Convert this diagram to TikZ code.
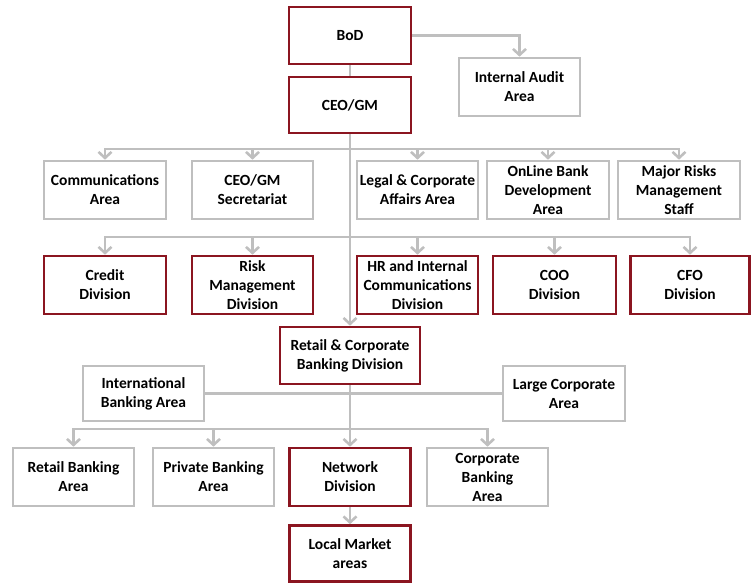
\documentclass[tikz,border=0pt]{standalone}
\usepackage{fontspec}
\setmainfont{Carlito}
\usepackage{tikz}
\usetikzlibrary{arrows.meta}
\definecolor{darkred}{RGB}{139,21,32}
\definecolor{boxgray}{RGB}{191,191,191}

\begin{document}
\begin{tikzpicture}[x=1pt,y=-1pt,
  box/.style={draw,line width=2.6pt,align=center,inner sep=1pt,
    font=\bfseries\fontsize{15.5}{19}\selectfont,minimum height=58pt},
  redbox/.style={box,draw=darkred,minimum width=122pt},
  graybox/.style={box,draw=boxgray,minimum width=122pt},
  conn/.style={draw=boxgray,line width=2.6pt},
  arr/.style={conn,-{Straight Barb[length=6pt,width=13pt]}}]
 \useasboundingbox (0,0) rectangle (752,583);
 % top
 \node[redbox,minimum height=57pt] (bod) at (350,35.5) {BoD};
 \node[redbox,minimum height=56pt] (ceo) at (350,105) {CEO/GM};
 \node[graybox,minimum width=121pt] (audit) at (519.5,87) {Internal Audit\\Area};
 % staff areas
 \node[graybox] (comm) at (105,190) {Communications\\Area};
 \node[graybox,minimum width=121pt] (secr) at (252.5,190) {CEO/GM\\Secretariat};
 \node[graybox,minimum width=121pt] (legal) at (417.5,190) {Legal \& Corporate\\Affairs Area};
 \node[graybox] (online) at (548,190) {OnLine Bank\\Development\\Area};
 \node[graybox] (risks) at (679,190) {Major Risks\\Management\\Staff};
 % divisions
 \node[redbox] (credit) at (105,285) {Credit\\Division};
 \node[redbox,minimum width=121pt] (riskdiv) at (252.5,285) {Risk\\Management\\Division};
 \node[redbox,minimum width=121pt] (hr) at (417.5,285) {HR and Internal\\Communications\\Division};
 \node[redbox,minimum width=123pt] (coo) at (554.5,285) {COO\\Division};
 \node[redbox,minimum width=119pt] (cfo) at (690,285) {CFO\\Division};
 % retail & corporate banking
 \node[redbox,minimum width=140pt,minimum height=57pt] (rcb) at (350,355.5) {Retail \& Corporate\\Banking Division};
 \node[graybox,minimum width=121pt,minimum height=55pt] (intl) at (143.5,393.5) {International\\Banking Area};
 \node[graybox,minimum height=55pt] (large) at (564,393.5) {Large Corporate\\Area};
 \node[graybox,minimum width=121pt] (retail) at (73.5,477) {Retail Banking\\Area};
 \node[graybox,minimum width=121pt] (private) at (213.5,477) {Private Banking\\Area};
 \node[redbox,minimum width=121pt] (network) at (350,477) {Network\\Division};
 \node[graybox,minimum width=121pt] (corp) at (487.5,477) {Corporate\\Banking\\Area};
 \node[redbox,minimum width=121pt,minimum height=56pt] (local) at (350,553.5) {Local Market\\areas};

 \coordinate (bus2) at (350,149);
 \coordinate (bus3) at (350,237);
 \coordinate (bus5) at (350,429);

 \draw[arr] (bod.east) -| (audit.north);
 \draw[conn] (bod.south) -- (ceo.north);
 \draw[arr] (ceo.south) -- (rcb.north);
 \foreach \n in {comm,secr,legal,online,risks}
   \draw[arr] (bus2) -| (\n.north);
 \foreach \n in {credit,riskdiv,hr,coo,cfo}
   \draw[arr] (bus3) -| (\n.north);
 \draw[conn] (intl.east) -- (large.west);
 \draw[conn] (rcb.south) -- (bus5);
 \foreach \n in {retail,private,network,corp}
   \draw[arr] (bus5) -| (\n.north);
 \draw[arr] (network.south) -- (local.north);
\end{tikzpicture}
\end{document}
